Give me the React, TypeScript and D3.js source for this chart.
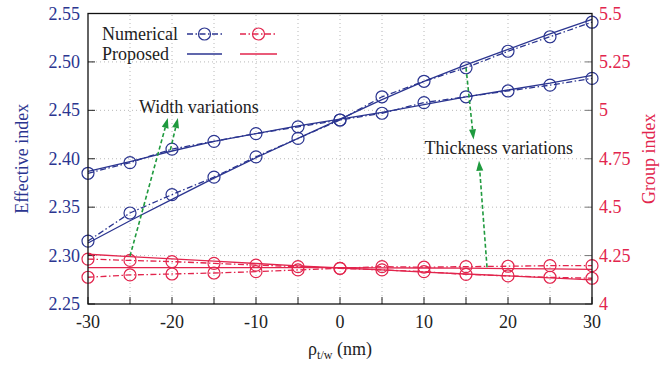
import React, { useEffect, useRef } from "react";
import * as d3 from "d3";

// rho_t/w sweep (nm)
const rho = [-30, -25, -20, -15, -10, -5, 0, 5, 10, 15, 20, 25, 30];

// effective index (left axis)
const widthNumerical = [2.315, 2.344, 2.363, 2.381, 2.402, 2.421, 2.44, 2.464, 2.48, 2.494, 2.511, 2.526, 2.541];
const widthProposed = [2.313, 2.336, 2.358, 2.38, 2.401, 2.421, 2.441, 2.461, 2.48, 2.497, 2.513, 2.529, 2.544];
const thickNumerical = [2.385, 2.396, 2.41, 2.418, 2.426, 2.433, 2.44, 2.447, 2.458, 2.464, 2.47, 2.476, 2.483];
const thickProposed = [2.387, 2.397, 2.408, 2.418, 2.426, 2.434, 2.441, 2.448, 2.456, 2.464, 2.471, 2.478, 2.486];

// group index (right axis)
const groupANumerical = [4.232, 4.225, 4.219, 4.21, 4.201, 4.193, 4.184, 4.176, 4.167, 4.153, 4.145, 4.138, 4.133];
const groupAProposed = [4.257, 4.245, 4.233, 4.221, 4.209, 4.197, 4.186, 4.176, 4.165, 4.155, 4.145, 4.135, 4.125];
const groupBNumerical = [4.138, 4.15, 4.155, 4.16, 4.167, 4.176, 4.184, 4.193, 4.19, 4.193, 4.195, 4.198, 4.198];
const groupBProposed = [4.188, 4.188, 4.188, 4.188, 4.188, 4.188, 4.188, 4.187, 4.186, 4.185, 4.183, 4.181, 4.179];

const xTickLabels = [-30, -20, -10, 0, 10, 20, 30];
const leftTicks = [2.25, 2.3, 2.35, 2.4, 2.45, 2.5, 2.55];
const rightTicks = [4, 4.25, 4.5, 4.75, 5, 5.25, 5.5];

// annotation arrows, in (rho, effective index) units
const annotations = [
    { label: "Width variations", at: [-16.8, 2.447], arrows: [
        { from: [-25, 2.2995], to: [-20.5, 2.442] },
        { from: [-20.2, 2.409], to: [-19.3, 2.442] },
    ] },
    { label: "Thickness variations", at: [18.9, 2.4045], arrows: [
        { from: [15, 2.494], to: [15.9, 2.42] },
        { from: [17.5, 2.288], to: [16.55, 2.398] },
    ] },
];

const BLUE = "#2b3590";
const RED = "#e2254d";
const GREEN = "#1f9a3e";
const FONT = "Liberation Serif";

const App = () => {
    const ref = useRef<SVGSVGElement>(null);

    useEffect(() => {
        const svg = d3.select(ref.current);
        svg.selectAll("*").remove();

        const x = d3.scaleLinear().domain([-30, 30]).range([88, 592]);
        const yL = d3.scaleLinear().domain([2.25, 2.55]).range([304, 13.5]);
        const yR = d3.scaleLinear().domain([4, 5.5]).range([304, 13.5]);

        const g = svg.append("g");
        const text = () => g.append("text").attr("font-family", FONT).attr("font-size", 18);

        // grid
        const xGrid = d3.range(-25, 30, 5);
        g.selectAll(".vgrid").data(xGrid).enter().append("line")
            .attr("x1", d => x(d)).attr("x2", d => x(d))
            .attr("y1", yL(2.25)).attr("y2", yL(2.55))
            .attr("stroke", "#b8b8b8").attr("stroke-dasharray", "1,3");
        g.selectAll(".hgrid").data(leftTicks.slice(1, -1)).enter().append("line")
            .attr("x1", x(-30)).attr("x2", x(30))
            .attr("y1", d => yL(d)).attr("y2", d => yL(d))
            .attr("stroke", "#b8b8b8").attr("stroke-dasharray", "1,3");

        // ticks
        g.selectAll(".xtick").data(d3.range(-30, 31, 5)).enter().append("line")
            .attr("x1", d => x(d)).attr("x2", d => x(d))
            .attr("y1", yL(2.25)).attr("y2", yL(2.25) - 7)
            .attr("stroke", "#222").attr("stroke-width", 1);
        g.selectAll(".ltick").data(leftTicks).enter().append("line")
            .attr("x1", x(-30)).attr("x2", x(-30) + 7)
            .attr("y1", d => yL(d)).attr("y2", d => yL(d))
            .attr("stroke", "#222");
        g.selectAll(".rtick").data(rightTicks).enter().append("line")
            .attr("x1", x(30)).attr("x2", x(30) - 7)
            .attr("y1", d => yR(d)).attr("y2", d => yR(d))
            .attr("stroke", "#777");

        const drawSeries = (vals: number[], y: d3.ScaleLinear<number, number>, color: string, numerical: boolean) => {
            const line = d3.line<number>().x((_, i) => x(rho[i])).y(d => y(d));
            g.append("path").datum(vals)
                .attr("d", line)
                .attr("fill", "none")
                .attr("stroke", color)
                .attr("stroke-width", 1.3)
                .attr("stroke-dasharray", numerical ? "6,2.5,1.5,2.5" : null);
            if (numerical) {
                g.selectAll(null).data(vals).enter().append("circle")
                    .attr("cx", (_, i) => x(rho[i])).attr("cy", d => y(d))
                    .attr("r", 6).attr("fill", "none")
                    .attr("stroke", color).attr("stroke-width", 1.2);
            }
        };

        drawSeries(groupAProposed, yR, RED, false);
        drawSeries(groupBProposed, yR, RED, false);
        drawSeries(groupANumerical, yR, RED, true);
        drawSeries(groupBNumerical, yR, RED, true);
        drawSeries(widthProposed, yL, BLUE, false);
        drawSeries(thickProposed, yL, BLUE, false);
        drawSeries(widthNumerical, yL, BLUE, true);
        drawSeries(thickNumerical, yL, BLUE, true);

        // annotations
        annotations.forEach(a => {
            a.arrows.forEach(ar => {
                const x1 = x(ar.from[0]), y1 = yL(ar.from[1]);
                const x2 = x(ar.to[0]), y2 = yL(ar.to[1]);
                const ang = Math.atan2(y2 - y1, x2 - x1);
                const len = 10, half = 3.5;
                const bx = x2 - len * Math.cos(ang), by = y2 - len * Math.sin(ang);
                g.append("line")
                    .attr("x1", x1).attr("y1", y1).attr("x2", bx).attr("y2", by)
                    .attr("stroke", GREEN).attr("stroke-width", 1.6)
                    .attr("stroke-dasharray", "4,2.5");
                const px = -Math.sin(ang) * half, py = Math.cos(ang) * half;
                g.append("path")
                    .attr("d", `M${x2},${y2}L${bx + px},${by + py}L${bx - px},${by - py}Z`)
                    .attr("fill", GREEN);
            });
            text()
                .attr("x", x(a.at[0])).attr("y", yL(a.at[1]))
                .attr("text-anchor", "middle").attr("fill", "#222")
                .text(a.label);
        });

        // border
        g.append("rect")
            .attr("x", x(-30)).attr("y", yL(2.55))
            .attr("width", x(30) - x(-30)).attr("height", yL(2.25) - yL(2.55))
            .attr("fill", "none").attr("stroke", "#111").attr("stroke-width", 1.3);

        // tick labels
        xTickLabels.forEach(d => {
            text().attr("x", x(d)).attr("y", yL(2.25) + 24)
                .attr("text-anchor", "middle").attr("fill", "#222")
                .text(String(d));
        });
        leftTicks.forEach(d => {
            text().attr("x", x(-30) - 8).attr("y", yL(d) + 6)
                .attr("text-anchor", "end").attr("fill", BLUE)
                .text(d3.format(".2f")(d));
        });
        rightTicks.forEach(d => {
            text().attr("x", x(30) + 7).attr("y", yR(d) + 6)
                .attr("text-anchor", "start").attr("fill", RED)
                .text(String(d));
        });

        // axis titles
        const midY = (yL(2.25) + yL(2.55)) / 2;
        text()
            .attr("transform", `translate(28,${midY}) rotate(-90)`)
            .attr("text-anchor", "middle").attr("fill", BLUE)
            .text("Effective index");
        text()
            .attr("transform", `translate(655,${midY}) rotate(-90)`)
            .attr("text-anchor", "middle").attr("fill", RED)
            .text("Group index");
        const xt = text()
            .attr("x", (x(-30) + x(30)) / 2).attr("y", 355)
            .attr("text-anchor", "middle").attr("fill", "#222");
        xt.append("tspan").text("ρ");
        xt.append("tspan").attr("font-size", 12).attr("dy", 4).text("t/w");
        xt.append("tspan").attr("dy", -4).text(" (nm)");

        // legend
        const legend = [
            { label: "Numerical", y: 34, numerical: true },
            { label: "Proposed", y: 54, numerical: false },
        ];
        legend.forEach(l => {
            text()
                .attr("x", 102).attr("y", l.y + 6)
                .attr("text-anchor", "start").attr("fill", "#222")
                .text(l.label);
            [{ c: BLUE, x0: 187, x1: 222 }, { c: RED, x0: 240, x1: 277 }].forEach(s => {
                g.append("line")
                    .attr("x1", s.x0).attr("x2", s.x1).attr("y1", l.y).attr("y2", l.y)
                    .attr("stroke", s.c).attr("stroke-width", 1.3)
                    .attr("stroke-dasharray", l.numerical ? "6,2.5,1.5,2.5" : null);
                if (l.numerical) {
                    g.append("circle")
                        .attr("cx", (s.x0 + s.x1) / 2).attr("cy", l.y).attr("r", 6)
                        .attr("fill", "none").attr("stroke", s.c).attr("stroke-width", 1.2);
                }
            });
        });
    }, []);

    return (
        <svg ref={ref} width={671} height={370}
            style={{ position: "absolute", left: 0, top: 0, background: "#fff" }} />
    );
};

export default App;
